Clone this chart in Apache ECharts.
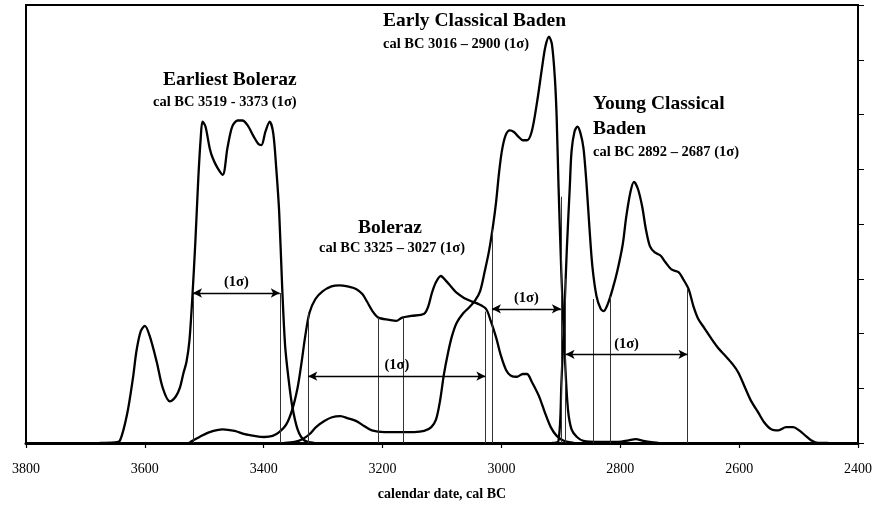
<!DOCTYPE html>
<html>
<head>
<meta charset="utf-8">
<script src="https://cdn.jsdelivr.net/npm/echarts@6/dist/echarts.min.js"></script>
<style>html,body{margin:0;padding:0;background:#fff}#c{width:875px;height:506px}</style>
</head>
<body>
<div id="c"></div>
<script>
// ---- data (calendar years BC, relative probability) ----
const xTicks = [3800, 3600, 3400, 3200, 3000, 2800, 2600, 2400];

const earliestYears = [3676,3651,3642,3630,3620,3614,3607,3600,3592,3580,3570,3558,3548,3541,3535,3530,3525,3520,3515,3510,3506,3503,3498,3491,3486,3478,3469,3461,3453,3444,3436,3427,3417,3409,3404,3397,3390,3384,3379,3374,3369,3364,3358,3352,3343,3332,3315];
const earliestVals  = [0,0.01,0.04,0.52,1.19,1.69,2.04,2.14,1.96,1.48,1.01,0.76,0.85,1.01,1.28,1.48,1.87,2.68,3.68,4.85,5.57,5.87,5.78,5.39,5.21,5.03,4.90,5.39,5.78,5.89,5.89,5.80,5.60,5.46,5.44,5.69,5.87,5.66,5.03,4.22,2.86,1.78,1.15,0.67,0.25,0.05,0];

const bolerazYears = [3525,3520,3508,3491,3469,3449,3432,3416,3399,3385,3374,3362,3352,3343,3337,3330,3323,3313,3301,3286,3273,3259,3244,3234,3226,3217,3207,3189,3177,3167,3152,3130,3123,3117,3110,3102,3094,3085,3075,3063,3051,3041,3026,3018,3009,3001,2992,2984,2974,2964,2957,2949,2937,2927,2917,2907,2895,2878];
const bolerazVals  = [0,0.04,0.11,0.2,0.25,0.22,0.16,0.13,0.11,0.13,0.2,0.34,0.61,1.01,1.42,1.96,2.38,2.63,2.77,2.86,2.88,2.86,2.81,2.72,2.58,2.41,2.29,2.25,2.23,2.29,2.32,2.36,2.50,2.74,2.94,3.05,2.97,2.86,2.74,2.65,2.59,2.55,2.45,2.23,1.93,1.60,1.33,1.23,1.21,1.26,1.26,1.12,0.86,0.56,0.29,0.13,0.04,0];

const earlyClassYears = [3365,3348,3335,3323,3312,3298,3285,3271,3258,3244,3231,3218,3197,3172,3147,3130,3118,3110,3103,3097,3090,3083,3075,3065,3055,3045,3036,3028,3021,3014,3009,3004,2999,2993,2986,2979,2972,2964,2957,2949,2940,2932,2926,2920,2915,2910,2907,2904,2899,2893,2888,2882,2873,2862,2836,2803,2786,2774,2761,2736];
const earlyClassVals  = [0,0.02,0.07,0.16,0.29,0.40,0.47,0.49,0.45,0.40,0.31,0.23,0.2,0.2,0.2,0.22,0.29,0.43,0.79,1.24,1.64,1.96,2.20,2.36,2.47,2.59,2.77,3.14,3.50,3.98,4.40,4.94,5.35,5.62,5.71,5.68,5.60,5.53,5.53,5.69,6.23,6.83,7.24,7.42,7.28,6.65,5.93,4.72,3.05,1.51,0.61,0.25,0.11,0.04,0.02,0.02,0.05,0.07,0.04,0];

const youngClassYears = [2915,2904,2899,2893,2890,2885,2882,2877,2872,2867,2862,2857,2852,2847,2840,2833,2828,2821,2813,2805,2796,2790,2783,2777,2770,2763,2757,2750,2742,2732,2724,2714,2702,2694,2685,2677,2669,2658,2647,2635,2623,2611,2601,2590,2580,2568,2558,2546,2534,2521,2509,2499,2489,2479,2467,2450];
const youngClassVals  = [0,0.04,1.12,2.68,3.53,4.67,5.33,5.69,5.78,5.66,5.39,4.76,3.95,3.23,2.68,2.45,2.41,2.54,2.81,3.14,3.62,4.13,4.58,4.77,4.63,4.31,3.91,3.59,3.48,3.42,3.30,3.17,3.12,2.99,2.81,2.50,2.27,2.09,1.91,1.73,1.59,1.44,1.28,1.01,0.77,0.56,0.38,0.25,0.23,0.29,0.29,0.23,0.14,0.05,0,0];

// 1-sigma boundary lines
const sigmaLineYears = [3519,3373,3325,3207,3165,3027,3016,2900,2892,2845,2817,2687];
const sigmaLineTops  = [2.74,2.74,2.38,2.29,2.29,2.40,3.90,4.50,3.00,2.63,2.68,2.81];

// 1-sigma arrows
const arrowFrom  = [3519,3325,3016,2892];
const arrowTo    = [3373,3027,2900,2687];
const arrowLevel = [2.74,1.22,2.45,1.62];
const arrowText  = '(1σ)';

// ---- chart ----
const pairs = (xs, ys) => xs.map((x, i) => [x, ys[i]]);
const SERIF = '"Liberation Serif", "Times New Roman", serif';

function curve(name, xs, ys, extra) {
  return Object.assign({
    name, type: 'line', data: pairs(xs, ys),
    smooth: 0.3, symbol: 'none',
    lineStyle: { color: '#000', width: 2.3 },
    z: 3
  }, extra || {});
}

const vLines = sigmaLineYears.map((y, i) => [{ coord: [y, 0] }, { coord: [y, sigmaLineTops[i]] }]);
const arrows = arrowFrom.map((f, i) => [{ coord: [f, arrowLevel[i]] }, { coord: [arrowTo[i], arrowLevel[i]] }]);

const chart = echarts.init(document.getElementById('c'), null, { renderer: 'canvas' });
chart.setOption({
  animation: false,
  backgroundColor: '#fff',
  grid: { left: 26, right: 15, top: 5, bottom: 57, show: true, borderColor: '#000', borderWidth: 2, backgroundColor: 'transparent' },
  xAxis: {
    type: 'value', min: 2400, max: 3800, interval: 200, inverse: true,
    name: 'calendar date, cal BC', nameLocation: 'middle', nameGap: 44,
    nameTextStyle: { fontFamily: SERIF, fontWeight: 'bold', fontSize: 14, color: '#000' },
    axisLine: { show: true, lineStyle: { color: '#000', width: 3 } },
    axisTick: { show: true, length: 5, lineStyle: { color: '#000', width: 1.2 } },
    axisLabel: { color: '#000', fontFamily: SERIF, fontSize: 14, margin: 19, formatter: v => xTicks.includes(v) ? String(v) : '' },
    splitLine: { show: false }
  },
  yAxis: {
    type: 'value', min: 0, max: 8, interval: 1, position: 'right',
    axisLine: { show: true, lineStyle: { color: '#000', width: 2 } },
    axisTick: { show: true, inside: false, length: 6, lineStyle: { color: '#000', width: 1 } },
    axisLabel: { show: false },
    splitLine: { show: false }
  },
  series: [
    curve('Earliest Boleraz', earliestYears, earliestVals, {
      markLine: {
        silent: true, symbol: 'none', animation: false,
        lineStyle: { color: '#333', width: 1, type: 'solid' },
        label: { show: false },
        data: vLines
      }
    }),
    curve('Boleraz', bolerazYears, bolerazVals, {
      markLine: {
        silent: true, symbol: ['arrow', 'arrow'], symbolSize: [7, 9], animation: false,
        lineStyle: { color: '#000', width: 1.3, type: 'solid' },
        label: { show: true, position: 'insideMiddleTop', distance: 3, formatter: arrowText,
                 fontFamily: SERIF, fontWeight: 'bold', fontSize: 14.5, color: '#000' },
        data: arrows
      }
    }),
    curve('Early Classical Baden', earlyClassYears, earlyClassVals),
    curve('Young Classical Baden', youngClassYears, youngClassVals)
  ],
  graphic: [
    { type: 'text', left: 163, top: 70, style: { text: 'Earliest Boleraz', font: 'bold 19.5px ' + SERIF, fill: '#000' } },
    { type: 'text', left: 153, top: 95, style: { text: 'cal BC 3519 - 3373 (1σ)', font: 'bold 14.5px ' + SERIF, fill: '#000' } },
    { type: 'text', left: 358, top: 218, style: { text: 'Boleraz', font: 'bold 19.5px ' + SERIF, fill: '#000' } },
    { type: 'text', left: 319, top: 241, style: { text: 'cal BC 3325 – 3027 (1σ)', font: 'bold 14.5px ' + SERIF, fill: '#000' } },
    { type: 'text', left: 383, top: 11, style: { text: 'Early Classical Baden', font: 'bold 19.5px ' + SERIF, fill: '#000' } },
    { type: 'text', left: 383, top: 37, style: { text: 'cal BC 3016 – 2900 (1σ)', font: 'bold 14.5px ' + SERIF, fill: '#000' } },
    { type: 'text', left: 593, top: 94, style: { text: 'Young Classical', font: 'bold 19.5px ' + SERIF, fill: '#000' } },
    { type: 'text', left: 593, top: 119, style: { text: 'Baden', font: 'bold 19.5px ' + SERIF, fill: '#000' } },
    { type: 'text', left: 593, top: 145, style: { text: 'cal BC 2892 – 2687 (1σ)', font: 'bold 14.5px ' + SERIF, fill: '#000' } }
  ]
});
</script>
</body>
</html>
